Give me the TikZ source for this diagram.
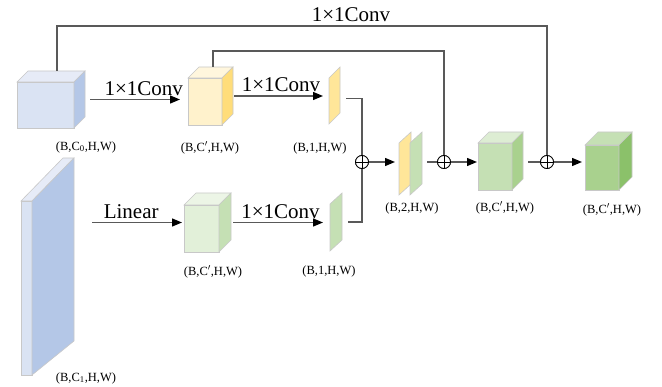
\documentclass[tikz,border=0pt]{standalone}
\usepackage{fontspec}
\setmainfont{Liberation Serif}
\usetikzlibrary{arrows.meta, positioning, calc}
\definecolor{CEdge}{HTML}{C8C8C8}
\definecolor{CLine}{HTML}{595959}
\definecolor{CBlueFront}{HTML}{DAE3F3}
\definecolor{CBlueTop}{HTML}{E6EBF7}
\definecolor{CBlueSide}{HTML}{B4C7E7}
\definecolor{CYelFront}{HTML}{FFF2CC}
\definecolor{CYelTop}{HTML}{FFF6DD}
\definecolor{CYelSide}{HTML}{FFDD7A}
\definecolor{CYelPlate}{HTML}{FFE699}
\definecolor{CGrnLFront}{HTML}{E2F0D9}
\definecolor{CGrnLTop}{HTML}{ECF5E6}
\definecolor{CGrnLSide}{HTML}{C5E0B4}
\definecolor{CGrnMFront}{HTML}{C5E0B4}
\definecolor{CGrnMTop}{HTML}{DDEDD3}
\definecolor{CGrnMSide}{HTML}{A9D18E}
\definecolor{CGrnDFront}{HTML}{A9D18E}
\definecolor{CGrnDTop}{HTML}{C5E0B4}
\definecolor{CGrnDSide}{HTML}{8BC16A}

% cube: name, centre, box width, box height, depth, front, top, side
\newcommand{\drawcube}[8]{%
  \node[cubebox, minimum width=#3pt, minimum height=#4pt] (#1) at (#2) {};
  \filldraw[face, fill=#6] ([yshift=-#5pt]#1.north west) rectangle ([xshift=-#5pt]#1.south east);
  \filldraw[face, fill=#7] ([yshift=-#5pt]#1.north west) -- ([xshift=#5pt]#1.north west) -- (#1.north east) -- ([xshift=-#5pt, yshift=-#5pt]#1.north east) -- cycle;
  \filldraw[face, fill=#8] ([xshift=-#5pt, yshift=-#5pt]#1.north east) -- (#1.north east) -- ([yshift=#5pt]#1.south east) -- ([xshift=-#5pt]#1.south east) -- cycle;
}
% plate: name, centre, width, height, slant, colour
\newcommand{\drawplate}[6]{%
  \node[cubebox, minimum width=#3pt, minimum height=#4pt] (#1) at (#2) {};
  \filldraw[face, fill=#6] ([yshift=-#5pt]#1.north west) -- (#1.north east) -- ([yshift=#5pt]#1.south east) -- (#1.south west) -- cycle;
}

\begin{document}
\begin{tikzpicture}[x=1pt, y=-1pt,
    cubebox/.style={inner sep=0pt, outer sep=0pt},
    face/.style={draw=CEdge, line width=0.6pt},
    line/.style={draw=CLine, line width=1.3pt},
    arr/.style={line, -{Triangle[length=10pt, width=8pt, color=black]}},
    lbl/.style={font=\fontsize{21}{24}\selectfont},
    dim/.style={font=\fontsize{12.5}{14}\selectfont},
    plus/.style={circle, draw=black, fill=white, line width=0.8pt, minimum size=13pt, inner sep=0pt,
        path picture={\draw[line width=0.8pt] (path picture bounding box.north) -- (path picture bounding box.south)
            (path picture bounding box.west) -- (path picture bounding box.east);}}]
    \useasboundingbox (0,0) rectangle (662,387);

    % Inputs
    \drawcube{c0}{51,99.5}{68}{57}{11}{CBlueFront}{CBlueTop}{CBlueSide}
    \node[cubebox, minimum width=53pt, minimum height=217pt] (b1) at (47.5,266.5) {};
    \filldraw[face, fill=CBlueFront] ([yshift=-43pt]b1.north west) rectangle ([xshift=11pt]b1.south west);
    \filldraw[face, fill=CBlueTop] ([yshift=-43pt]b1.north west) -- ([xshift=42pt]b1.north west) -- (b1.north east) -- ([xshift=-42pt, yshift=-43pt]b1.north east) -- cycle;
    \filldraw[face, fill=CBlueSide] ([xshift=-42pt, yshift=-43pt]b1.north east) -- (b1.north east) -- ([yshift=34pt]b1.south east) -- ([xshift=11pt]b1.south west) -- cycle;

    % Upper branch
    \drawcube{c1}{210.5,96}{45}{58}{11}{CYelFront}{CYelTop}{CYelSide}
    \drawplate{p1}{334.5,95.5}{11}{57}{11}{CYelPlate}

    % Lower branch
    \drawcube{c5}{207.5,222.5}{47}{59}{12}{CGrnLFront}{CGrnLTop}{CGrnLSide}
    \drawplate{p2}{336,222}{12}{58}{11}{CGrnLSide}

    % Concatenated plates
    \drawplate{dy}{405,163.5}{12}{63}{11}{CYelPlate}
    \drawplate{dg}{416,163.5}{12}{63}{11}{CGrnLSide}

    % Outputs
    \drawcube{c3}{500.5,161}{45}{58}{11}{CGrnMFront}{CGrnMTop}{CGrnMSide}
    \drawcube{c4}{608.5,161}{47}{58}{13}{CGrnDFront}{CGrnDTop}{CGrnDSide}

    % Sums
    \node[plus] (s1) at (362,162) {};
    \node[plus] (s2) at (444,162) {};
    \node[plus] (s3) at (547,162) {};

    % Arrows
    \draw[arr, shorten <=5pt, shorten >=8pt] (c0.east) -- (c0.east -| c1.west) node[lbl, above, pos=0.57] (t1) {1×1Conv};
    \draw[arr, shorten <=1pt, shorten >=6pt] (c1.east) -- (c1.east -| p1.west) node[lbl, above, midway] (t2) {1×1Conv};
    \draw[arr, shorten <=18pt, shorten >=2pt] (c5.west -| b1.east) -- (c5.west) node[lbl, above, pos=0.52] (t3) {Linear};
    \draw[arr, shorten <=2pt, shorten >=7pt] (c5.east) -- (c5.east -| p2.west) node[lbl, above, midway] (t4) {1×1Conv};
    \draw[line] ([shift={(6,3)}]p1.east) -| (s1.north);
    \draw[line] ([xshift=6pt]p2.east) -| (s1.south);
    \draw[arr, shorten >=4pt] (s1.east) -- (s1.east -| dy.west);
    \draw[line] ([xshift=5pt]dg.east |- s2.west) -- (s2.west);
    \draw[arr, shorten >=1pt] (s2.east) -- (s2.east -| c3.west);
    \draw[line] ([xshift=5pt]c3.east |- s3.west) -- (s3.west);
    \draw[arr, shorten >=3pt] (s3.east) -- (s3.east -| c4.west);

    % Skip connections
    \draw[line] ([xshift=2.5pt]c1.north) -- ++(0,-16) -| (s2.north);
    \draw[line] ([xshift=6pt]c0.north) -- ++(0,-45) -| (s3.north) node[lbl, above, pos=0.3] (t0) {1×1Conv};
    \node[plus] at (s2) {};
    \node[plus] at (s3) {};
    \node[plus] at (s1) {};

    % Shapes
    \node[dim] (d0) at (86,147) {(B,C\textsubscript{0},H,W)};
    \node[dim] (d1) at (210,148) {(B,C$'$,H,W)};
    \node[dim] (d2) at (320,148) {(B,1,H,W)};
    \node[dim] (d3) at (86,378) {(B,C\textsubscript{1},H,W)};
    \node[dim] (d4) at (213,272) {(B,C$'$,H,W)};
    \node[dim] (d5) at (329,271) {(B,1,H,W)};
    \node[dim] (d6) at (412,208) {(B,2,H,W)};
    \node[dim] (d7) at (505,208) {(B,C$'$,H,W)};
    \node[dim] (d8) at (612,210) {(B,C$'$,H,W)};
\end{tikzpicture}
\end{document}
